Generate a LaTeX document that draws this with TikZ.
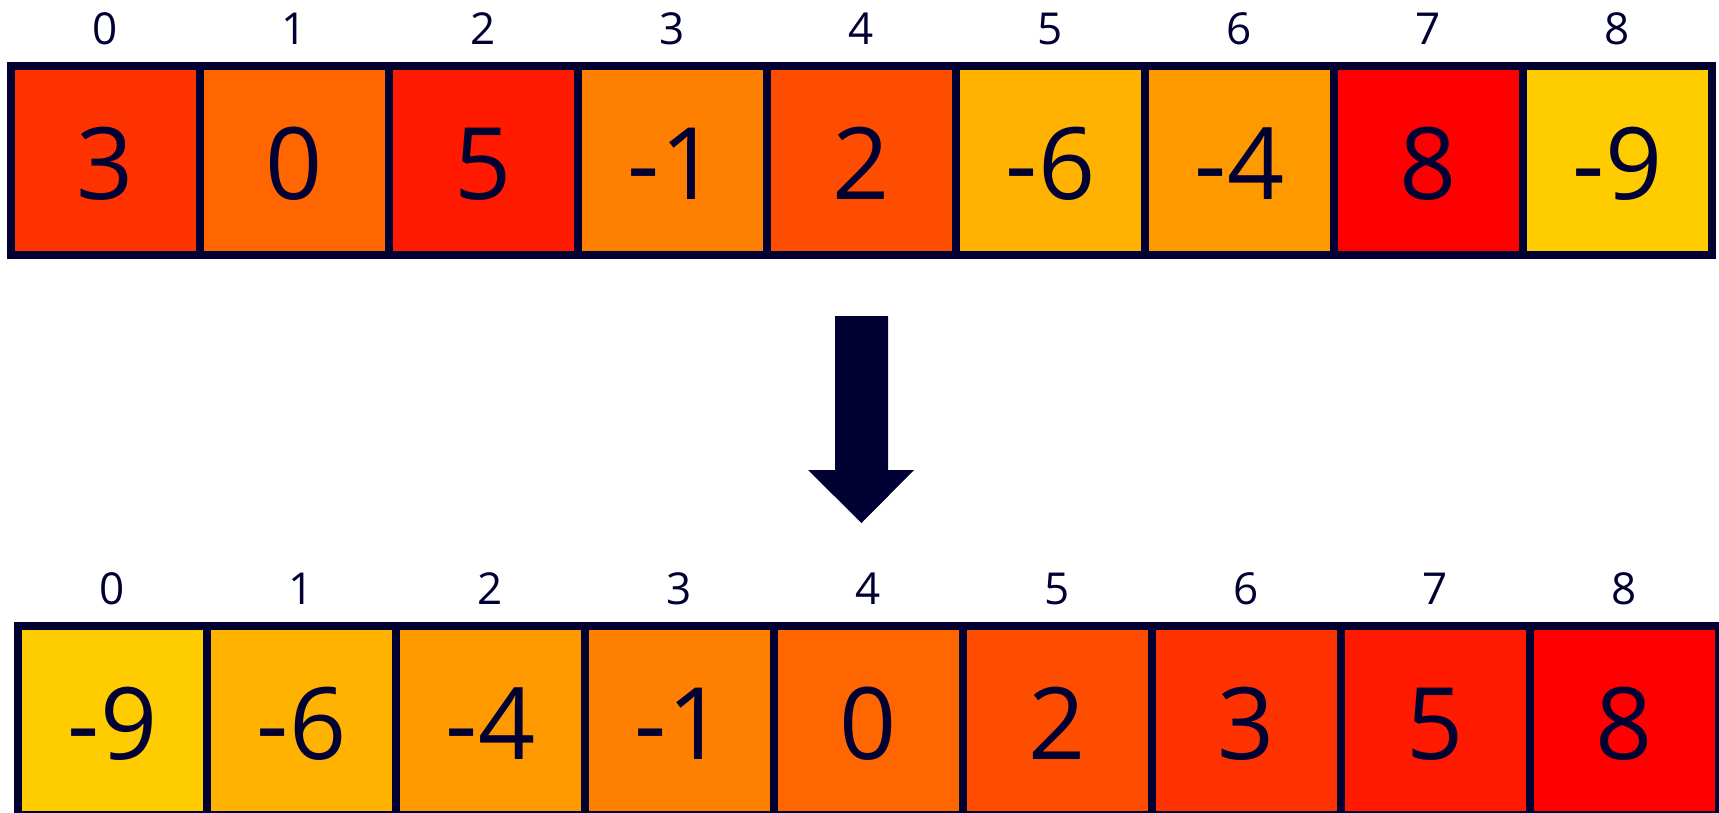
\documentclass[tikz,border=0pt]{standalone}
\usepackage{fontspec}
\setmainfont{Open Sans}
\definecolor{ink}{RGB}{0,0,51}
\definecolor{r0}{RGB}{255,204,0}
\definecolor{r1}{RGB}{255,179,0}
\definecolor{r2}{RGB}{255,153,0}
\definecolor{r3}{RGB}{255,128,0}
\definecolor{r4}{RGB}{255,102,0}
\definecolor{r5}{RGB}{255,77,0}
\definecolor{r6}{RGB}{255,51,0}
\definecolor{r7}{RGB}{255,26,0}
\definecolor{r8}{RGB}{255,0,0}
\begin{document}
\begin{tikzpicture}[x=0.5pt,y=-0.5pt,
  cell/.style={draw=ink, line width=4pt, minimum width=94.5pt, minimum height=94.5pt,
    inner sep=0pt, text=ink, font=\fontsize{50}{50}\selectfont, text height=39.2pt, text depth=0pt},
  idx/.style={text=ink, font=\fontsize{22}{22}\selectfont, inner sep=0pt}]
\useasboundingbox (0,0) rectangle (1719,813);
\foreach \v/\r [count=\i from 0] in {3/6,0/4,5/7,-1/3,2/5,-6/1,-4/2,8/8,-9/0} {
  \node[cell, fill=r\r] (t\i) at ({105.5+189*\i},160.5) {\v};
  \node[idx] (ti\i) at ({105.5+189*\i},29) {\i};
}
\foreach \v/\r [count=\i from 0] in {-9/0,-6/1,-4/2,-1/3,0/4,2/5,3/6,5/7,8/8} {
  \node[cell, fill=r\r] (b\i) at ({112.5+189*\i},720.5) {\v};
  \node[idx] (bi\i) at ({112.5+189*\i},589) {\i};
}
\fill[ink] (835,316) -- (888,316) -- (888,470) -- (914,470) -- (861.5,523)
  -- (808,470) -- (835,470) -- cycle;
\end{tikzpicture}
\end{document}
